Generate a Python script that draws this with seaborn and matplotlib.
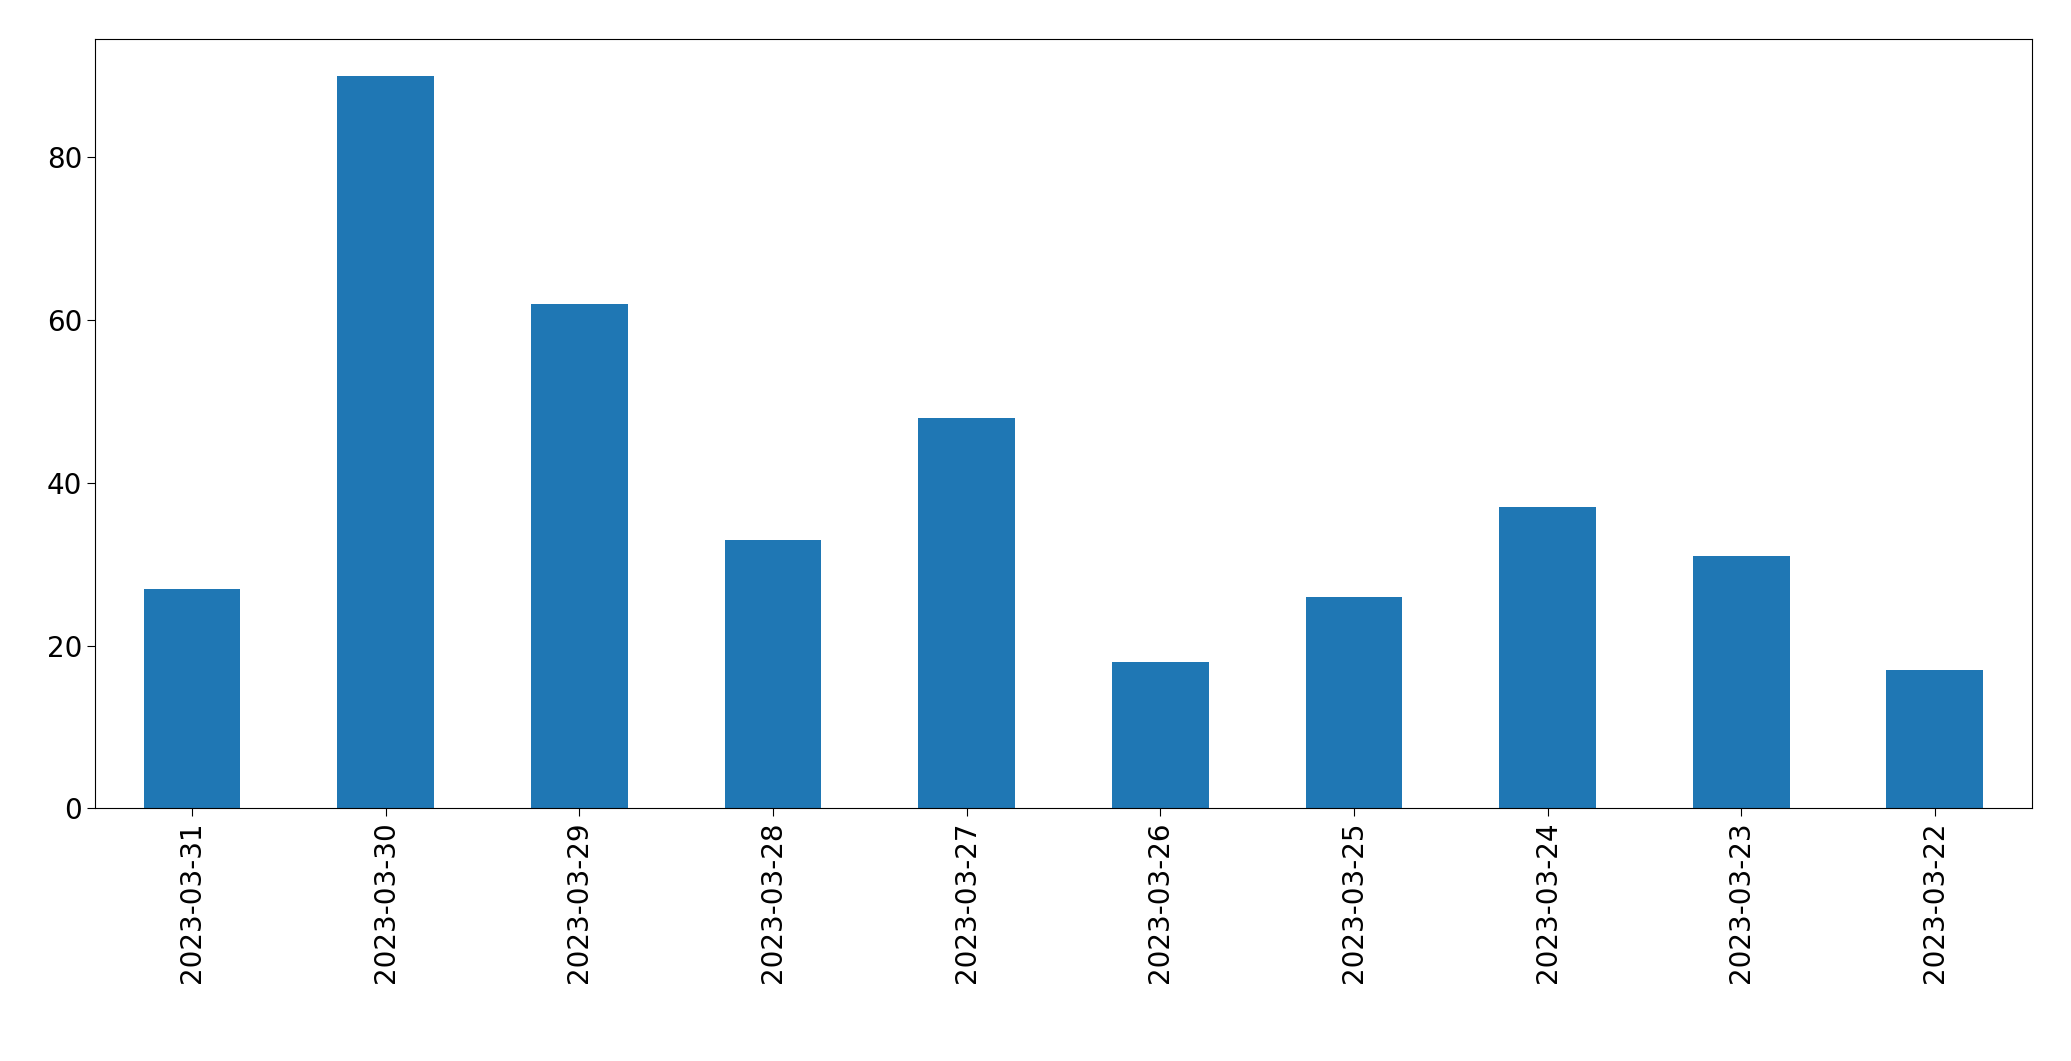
import matplotlib
matplotlib.use("Agg")
import matplotlib.pyplot as plt
import seaborn as sns

dates = ["2023-03-31", "2023-03-30", "2023-03-29", "2023-03-28", "2023-03-27",
         "2023-03-26", "2023-03-25", "2023-03-24", "2023-03-23", "2023-03-22"]
counts = [27, 90, 62, 33, 48, 18, 26, 37, 31, 17]

fig = plt.figure(figsize=(20.71, 10.61), dpi=100)
ax = fig.add_axes([0.046, 0.238, 0.935, 0.725])
sns.barplot(x=dates, y=counts, color="#1f77b4", saturation=1, width=0.5, ax=ax)
ax.set_xlim(-0.5, len(dates) - 0.5)
ax.set_ylim(0, 94.5)
ax.set_yticks([0, 20, 40, 60, 80])
ax.tick_params(axis="both", labelsize=20, length=6)
ax.tick_params(axis="x", rotation=90)
fig.savefig("out.png", dpi=100)
